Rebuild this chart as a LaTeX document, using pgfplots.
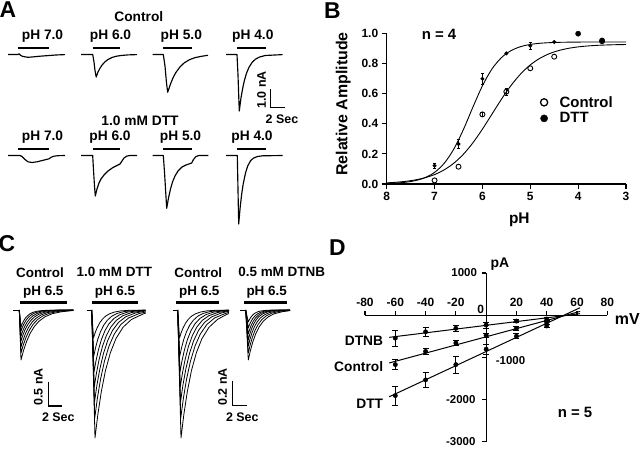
\documentclass[border=0pt]{standalone}
\usepackage{fontspec}
\setmainfont{Liberation Sans}
\usepackage{pgfplots}
\pgfplotsset{compat=1.18}
\newcommand{\fs}[1]{\fontsize{#1}{#1}\selectfont\bfseries}
\pgfplotsset{
  tr/.style={black, line width=1.15bp, line join=round},
  cr/.style={black, line width=0.8bp, line join=round},
  bar/.style={black, line width=2.8bp, line cap=butt},
  sb/.style={black, line width=1.4bp, line join=miter},
}
\begin{document}
\begin{tikzpicture}
% ================= background axis in pixel coordinates (panels A, C and texts)
\begin{axis}[name=bg, at={(0,0)}, anchor=south west, width=640bp, height=451bp,
  scale only axis, xmin=0, xmax=640, ymin=0, ymax=451, y dir=reverse,
  hide axis, clip=false, enlargelimits=false]
% ---------- Panel A, control row
\addplot[tr] coordinates {(8,54.5) (18,54.5) (19,53.8) (20.5,55.3) (23,56.5) (28,57.3) (33,56.9) (40,56.2) (48,55.6) (56,55.0) (65,54.6)};
\addplot[tr] coordinates {(81,54.5) (92.7,54.5) (94,62) (95,70.5) (96.2,77) (98,72) (100,68.2) (102,65.1) (105,61.8) (108,59.5) (112,57.5) (116,56.3) (121,55.5) (128,54.9) (137,54.6)};
\addplot[tr] coordinates {(152.7,54.5) (163.3,54.5) (165,66) (166.5,83) (167.7,92.3) (170.5,84.0) (173.2,77.4) (176,72.3) (180.1,66.8) (184.2,62.9) (189.7,59.6) (195.2,57.6) (202.1,56.2) (208,55.3)};
\addplot[tr] coordinates {(226,54.5) (237,54.5) (238,75) (238.8,98) (239.3,111) (240.9,98.5) (242.6,88.8) (244.2,81.2) (246.6,72.9) (249.1,67.1) (252.3,62.1) (255.6,59.1) (259.6,57.0) (265.3,55.5) (282.7,54.6)};
% ---------- Panel A, DTT row
\addplot[tr] coordinates {(8,155.5) (20,155.5) (22,156.5) (25,159.5) (28,161.8) (32,162.5) (37,161.8) (43,160.3) (49,158.8) (51,157.3) (54,156.2) (58,155.7) (65,155.5)};
\addplot[tr] coordinates {(81,155.5) (92.7,155.5) (93.5,170) (94.5,186) (95.3,196) (97,189) (99,183) (101,179) (104,175) (108,171) (113,167.5) (118,165) (120,164) (122,161) (124,158) (127,156) (130,155.5) (137,155.5)};
\addplot[tr] coordinates {(152.7,155.5) (163.3,155.5) (164.5,172) (165.7,192) (166.7,208.3) (168.5,198) (170.5,189) (172.5,182) (175,176) (178,171) (182,167) (186,165) (191.7,163) (193.5,159.5) (196,156.5) (199,155.5) (208.3,155.5)};
\addplot[tr] coordinates {(226,155.5) (237.3,155.5) (237.8,180) (238.3,205) (238.7,224) (240.2,207) (241.7,194) (243.2,184) (245.5,173) (247.7,166) (250.7,160.5) (253.7,158) (257.5,156.5) (262.7,155.8) (282.7,155.5)};
% application bars
\addplot[bar] coordinates {(18.3,48) (49.3,48)};
\addplot[bar] coordinates {(92.7,48) (120,48)};
\addplot[bar] coordinates {(163.3,48) (191.7,48)};
\addplot[bar] coordinates {(237.3,48) (265.7,48)};
\addplot[bar] coordinates {(18.3,149) (49.3,149)};
\addplot[bar] coordinates {(92.7,149) (120,149)};
\addplot[bar] coordinates {(163.3,149) (191.7,149)};
\addplot[bar] coordinates {(237.3,149) (265.7,149)};
% scale bar
\addplot[sb] coordinates {(270.7,89.3) (270.7,107.3) (285,107.3)};
% ---------- Panel C, group 1 (Control)
\addplot[cr] coordinates {(13.3,310) (19.3,310)};
\addplot[cr] coordinates {(19.3,310) (21,360) (23.4,351) (26.4,341.9) (30,333.6) (34.2,326.7) (39,321.2) (45,316.8) (52.2,313.7) (61.8,311.7) (73.3,310.5)};
\addplot[cr] coordinates {(19.3,310) (21,353) (23.2,345.2) (26,337.4) (29.3,330.3) (33.1,324.3) (37.5,319.6) (43,315.8) (49.6,313.2) (58.4,311.4) (70.5,310.5) (73.3,310.3)};
\addplot[cr] coordinates {(19.3,310) (21,347) (23,340.3) (25.5,333.6) (28.5,327.5) (32,322.3) (36,318.3) (41,315) (47,312.7) (55,311.2) (66,310.4) (73.3,310.2)};
\addplot[cr] coordinates {(19.3,310) (21,341) (22.8,335.4) (25,329.8) (27.8,324.6) (30.9,320.3) (34.5,316.9) (39,314.2) (44.4,312.3) (51.6,311) (61.5,310.3) (73.3,310.1)};
\addplot[cr] coordinates {(19.3,310) (21,336) (22.6,331.3) (24.6,326.6) (27,322.3) (29.8,318.7) (33,315.8) (37,313.5) (41.8,311.9) (48.2,310.9) (57,310.3) (73.3,310.1)};
\addplot[cr] coordinates {(19.3,310) (21,331) (22.4,327.2) (24.2,323.4) (26.3,319.9) (28.7,317) (31.5,314.7) (35,312.8) (39.2,311.6) (44.8,310.7) (52.5,310.2) (73.3,310)};
\addplot[cr] coordinates {(19.3,310) (21,327) (22.2,323.9) (23.7,320.8) (25.5,318) (27.6,315.7) (30,313.8) (33,312.3) (36.6,311.3) (41.4,310.6) (48,310.2) (73.3,310)};
% ---------- Panel C, group 2 (DTT)
\addplot[cr] coordinates {(86.7,310) (91.7,310)};
\addplot[cr] coordinates {(91.7,310) (95,438) (97.8,414.8) (101.3,391.7) (105.5,370.4) (110.4,352.6) (116,338.5) (123,327.3) (131.4,319.5) (142.6,314.2) (145.7,313)};
\addplot[cr] coordinates {(91.7,310) (94.75,418) (97.35,398.5) (100.6,378.9) (104.5,361) (109.05,346) (114.25,334.1) (120.75,324.6) (128.55,318) (138.95,313.6) (145.7,312)};
\addplot[cr] coordinates {(91.7,310) (94.5,402) (96.9,385.3) (99.9,368.7) (103.5,353.4) (107.7,340.6) (112.5,330.5) (118.5,322.4) (125.7,316.8) (135.3,313) (145.7,311)};
\addplot[cr] coordinates {(91.7,310) (94.25,387) (96.45,373.1) (99.2,359.1) (102.5,346.3) (106.35,335.6) (110.75,327.2) (116.25,320.4) (122.85,315.7) (131.65,312.5) (143.75,310.8) (145.7,310.6)};
\addplot[cr] coordinates {(91.7,310) (94,372) (96,360.8) (98.5,349.6) (101.5,339.3) (105,330.6) (109,323.8) (114,318.4) (120,314.6) (128,312) (139,310.7) (145.7,310.4)};
\addplot[cr] coordinates {(91.7,310) (93.75,356) (95.55,347.7) (97.8,339.3) (100.5,331.7) (103.65,325.3) (107.25,320.3) (111.75,316.2) (117.15,313.4) (124.35,311.5) (134.25,310.5) (145.7,310.2)};
\addplot[cr] coordinates {(91.7,310) (93.5,338) (95.1,332.9) (97.1,327.9) (99.5,323.2) (102.3,319.3) (105.5,316.2) (109.5,313.8) (114.3,312.1) (120.7,310.9) (129.5,310.3) (145.7,310.1)};
% ---------- Panel C, group 3 (Control)
\addplot[cr] coordinates {(172.7,310) (177.7,310)};
\addplot[cr] coordinates {(177.7,310) (181,438) (183.8,414.8) (187.3,391.7) (191.5,370.4) (196.4,352.6) (202,338.5) (209,327.3) (217.4,319.5) (226.5,314.5) (229,313.5)};
\addplot[cr] coordinates {(177.7,310) (180.75,418) (183.35,398.5) (186.6,378.9) (190.5,361) (195.05,346) (200.25,334.1) (206.75,324.6) (214.55,318) (224.95,313.6) (229,312.3)};
\addplot[cr] coordinates {(177.7,310) (180.5,402) (182.9,385.3) (185.9,368.7) (189.5,353.4) (193.7,340.6) (198.5,330.5) (204.5,322.4) (211.7,316.8) (221.3,313) (229,311.2)};
\addplot[cr] coordinates {(177.7,310) (180.25,387) (182.45,373.1) (185.2,359.1) (188.5,346.3) (192.35,335.6) (196.75,327.2) (202.25,320.4) (208.85,315.7) (217.65,312.5) (229,310.8)};
\addplot[cr] coordinates {(177.7,310) (180,372) (182,360.8) (184.5,349.6) (187.5,339.3) (191,330.6) (195,323.8) (200,318.4) (206,314.6) (214,312) (225,310.7) (229,310.5)};
\addplot[cr] coordinates {(177.7,310) (179.75,356) (181.55,347.7) (183.8,339.3) (186.5,331.7) (189.65,325.3) (193.25,320.3) (197.75,316.2) (203.15,313.4) (210.35,311.5) (220.25,310.5) (229,310.2)};
\addplot[cr] coordinates {(177.7,310) (179.5,338) (181.1,332.9) (183.1,327.9) (185.5,323.2) (188.3,319.3) (191.5,316.2) (195.5,313.8) (200.3,312.1) (206.7,310.9) (215.5,310.3) (229,310.1)};
% ---------- Panel C, group 4 (DTNB)
\addplot[cr] coordinates {(240,310) (245.7,310)};
\addplot[cr] coordinates {(245.7,310) (248.3,360) (250.3,351) (252.8,341.9) (255.8,333.6) (259.3,326.7) (263.3,321.2) (268.3,316.8) (274.3,313.7) (282.3,311.7) (290,310.6)};
\addplot[cr] coordinates {(245.7,310) (248.3,353) (250.1,345.2) (252.35,337.4) (255.05,330.3) (258.2,324.3) (261.8,319.6) (266.3,315.8) (271.7,313.2) (278.9,311.4) (288.8,310.5) (290,310.4)};
\addplot[cr] coordinates {(245.7,310) (248.3,346) (249.9,339.5) (251.9,333) (254.3,327) (257.1,322) (260.3,318) (264.3,314.9) (269.1,312.7) (275.5,311.2) (284.3,310.4) (290,310.2)};
\addplot[cr] coordinates {(245.7,310) (248.3,340) (249.7,334.6) (251.45,329.1) (253.55,324.2) (256,320) (258.8,316.7) (262.3,314.1) (266.5,312.2) (272.1,311) (279.8,310.3) (290,310.1)};
\addplot[cr] coordinates {(245.7,310) (248.3,334) (249.6,329.7) (251.2,325.3) (253.2,321.3) (255.45,318) (258.05,315.4) (261.3,313.2) (265.2,311.8) (270.4,310.8) (277.55,310.3) (290,310.1)};
\addplot[cr] coordinates {(245.7,310) (248.3,328) (249.5,324.7) (251,321.5) (252.8,318.5) (254.9,316) (257.3,314) (260.3,312.4) (263.9,311.3) (268.7,310.6) (275.3,310.2) (290,310)};
\addplot[cr] coordinates {(245.7,310) (248.3,322) (249.3,319.8) (250.55,317.7) (252.05,315.7) (253.8,314) (255.8,312.7) (258.3,311.6) (261.3,310.9) (265.3,310.4) (270.8,310.1) (290,310)};
% C bars and scale bars
\addplot[bar, line width=2.5bp] coordinates {(20,302.7) (66.7,302.7)};
\addplot[bar, line width=2.5bp] coordinates {(91.7,302.7) (138.3,302.7)};
\addplot[bar, line width=2.5bp] coordinates {(176,302.7) (219.3,302.7)};
\addplot[bar, line width=2.5bp] coordinates {(244.3,302.7) (287.3,302.7)};
\addplot[sb] coordinates {(48.3,381.7) (48.3,406) (62.3,406)};
\addplot[sb] coordinates {(232.3,380.7) (232.3,405.7) (246.7,405.7)};
% ---------- texts
\node[font=\fs{23}] at (axis cs:8,9.5) {A};
\node[font=\fs{23}] at (axis cs:332.5,10.5) {B};
\node[font=\fs{23}] at (axis cs:7,244) {C};
\node[font=\fs{23}] at (axis cs:337.5,247.5) {D};
\node[font=\fs{13.8}] at (axis cs:138.8,16.7) {Control};
\node[font=\fs{13.8}] at (axis cs:140,120.7) {1.0 mM DTT};
\node[font=\fs{13.8}] at (axis cs:42.5,36) {pH 7.0};
\node[font=\fs{13.8}] at (axis cs:110.5,36) {pH 6.0};
\node[font=\fs{13.8}] at (axis cs:181.3,36) {pH 5.0};
\node[font=\fs{13.8}] at (axis cs:252.8,36) {pH 4.0};
\node[font=\fs{13.8}] at (axis cs:42.5,137.3) {pH 7.0};
\node[font=\fs{13.8}] at (axis cs:110,137.3) {pH 6.0};
\node[font=\fs{13.8}] at (axis cs:180.5,137.3) {pH 5.0};
\node[font=\fs{13.8}] at (axis cs:252,137.3) {pH 4.0};
\node[font=\fs{12.5}, rotate=90] at (axis cs:261.7,90) {1.0 nA};
\node[font=\fs{12.5}] at (axis cs:282,119.5) {2 Sec};
\node[font=\fs{13.5}] at (axis cs:40,272.3) {Control};
\node[font=\fs{13.5}] at (axis cs:114.3,272.3) {1.0 mM DTT};
\node[font=\fs{13.5}] at (axis cs:198.3,272.3) {Control};
\node[font=\fs{13.5}] at (axis cs:281.7,272.3) {0.5 mM DTNB};
\node[font=\fs{13.5}] at (axis cs:43.3,292.3) {pH 6.5};
\node[font=\fs{13.5}] at (axis cs:115,292.3) {pH 6.5};
\node[font=\fs{13.5}] at (axis cs:199.3,292.3) {pH 6.5};
\node[font=\fs{13.5}] at (axis cs:266.7,292.3) {pH 6.5};
\node[font=\fs{12.5}, rotate=90] at (axis cs:38.3,386.7) {0.5 nA};
\node[font=\fs{12.5}] at (axis cs:58.3,417.7) {2 Sec};
\node[font=\fs{12.5}, rotate=90] at (axis cs:222.7,386.7) {0.2 nA};
\node[font=\fs{12.5}] at (axis cs:242.3,417.7) {2 Sec};
% B texts
\node[font=\fs{16}, rotate=90] at (axis cs:343.3,104) {Relative Amplitude};
\node[font=\fs{15.5}] at (axis cs:519.3,220) {pH};
\node[font=\fs{15}] at (axis cs:439,34.3) {n = 4};
% D texts
\node[font=\fs{13.8}, anchor=east, inner sep=0pt] at (axis cs:383.3,341) {DTNB};
\node[font=\fs{13.8}, anchor=east, inner sep=0pt] at (axis cs:383.3,366.7) {Control};
\node[font=\fs{13.8}, anchor=east, inner sep=0pt] at (axis cs:383.3,403.3) {DTT};
\node[font=\fs{15}] at (axis cs:575,412.7) {n = 5};
\node[font=\fs{16}] at (axis cs:627.3,319.3) {mV};
\node[font=\fs{14}] at (axis cs:500,264.3) {pA};
\end{axis}
% ================= Panel B
\begin{axis}[at={(386.7bp,267bp)}, anchor=south west, width=239.3bp, height=150.3bp,
  scale only axis, xmin=3, xmax=8, ymin=0, ymax=1, x dir=reverse, enlargelimits=false,
  axis x line=bottom, axis y line=left, axis line style={-, line width=1.1bp},
  tick align=outside, major tick length=5bp, tick style={black, line width=1.1bp},
  xtick={3,4,5,6,7,8}, ytick={0,0.2,0.4,0.6,0.8,1},
  yticklabel style={/pgf/number format/.cd, fixed, fixed zerofill, precision=1},
  /pgf/number format/assume math mode=true,
  ticklabel style={font=\fs{12}}, clip=false,
  legend style={at={(axis cs:4.93,0.612)}, anchor=north west, draw=none, fill=none,
    font=\fs{15}, row sep=0pt},
  legend cell align=left,
  legend image code/.code={\draw[mark repeat=1,#1] plot coordinates {(0.25cm,0cm)}; \path (0cm,0cm) (0.72cm,0cm);}]
\addplot[black, line width=0.9bp, smooth, forget plot] coordinates {(8,0.0033) (7.8,0.0063) (7.6,0.012) (7.4,0.0227) (7.2,0.0422) (7.0,0.0773) (6.8,0.1372) (6.6,0.2311) (6.4,0.3604) (6.2,0.5105) (6.0,0.6532) (5.8,0.7656) (5.6,0.8415) (5.4,0.8877) (5.2,0.914) (5.0,0.9285) (4.8,0.9363) (4.6,0.9404) (4.4,0.9426) (4.0,0.9443) (3.5,0.9449) (3.0,0.945)};
\addplot[black, line width=0.9bp, smooth, forget plot] coordinates {(8,0.0075) (7.8,0.0116) (7.6,0.0178) (7.4,0.0273) (7.2,0.0416) (7.0,0.0628) (6.8,0.0938) (6.6,0.1377) (6.4,0.1972) (6.2,0.2736) (6.0,0.3648) (5.8,0.465) (5.6,0.5651) (5.4,0.6564) (5.2,0.7328) (5.0,0.7923) (4.8,0.8362) (4.6,0.8672) (4.4,0.8884) (4.2,0.9027) (4.0,0.9122) (3.8,0.9184) (3.6,0.9225) (3.4,0.9251) (3.2,0.9269) (3.0,0.928)};
% error bars
\addplot[draw=none, mark=none, forget plot, error bars/.cd, y dir=both, y explicit,
  error bar style={draw=black, solid, line width=0.8bp}, error mark options={draw=black, solid, rotate=90, mark size=1.6bp, line width=0.8bp}]
  coordinates {(6,0.463) +- (0,0.016) (5.5,0.614) +- (0,0.022) (7,0.122) +- (0,0.016) (6.5,0.266) +- (0,0.032) (6.0,0.70) +- (0,0.035) (5.0,0.92) +- (0,0.025)};
\addplot[only marks, mark=o, mark size=2.5bp, mark options={fill=white, line width=0.9bp}, forget plot]
  coordinates {(7,0.024) (6.5,0.115) (6,0.463) (5.5,0.614) (5,0.77) (4.5,0.847) (3.5,0.95)};
\addplot[only marks, mark=*, mark size=1.8bp, forget plot]
  coordinates {(7,0.122) (6.5,0.266) (6.0,0.70) (5.5,0.869) (5.0,0.92) (4.5,0.945)};
\addplot[only marks, mark=*, mark size=2.6bp, forget plot]
  coordinates {(4.0,1.0) (3.5,0.955)};
\addlegendimage{only marks, mark=o, mark size=3.6bp, mark options={line width=1.3bp}}
\addlegendentry{Control}
\addlegendimage{only marks, mark=*, mark size=3.6bp}
\addlegendentry{DTT}
\end{axis}
% ================= Panel D
\begin{axis}[at={(365bp,9.3bp)}, anchor=south west, width=242.3bp, height=168.7bp,
  scale only axis, xmin=-80, xmax=80, ymin=-3000, ymax=1000, enlargelimits=false,
  axis lines=middle, axis line style={-, line width=1.1bp},
  xtick={-80,-60,-40,-20,20,40,60,80}, ytick={1000,-1000,-2000,-3000},
  xticklabel=\empty, yticklabel=\empty,
  major tick length=4.5bp, xtick align=inside, ytick align=outside,
  tick style={black, line width=1.1bp}, clip=false]
\addplot[black, line width=1bp] coordinates {(-64,-526) (62,35)};
\addplot[black, line width=1bp] coordinates {(-64,-1133) (62,89)};
\addplot[black, line width=1bp] coordinates {(-64,-1934) (62,177)};
\addplot[black, only marks, mark=*, mark size=2.2bp, error bars/.cd, y dir=both, y explicit,
  error bar style={line width=0.8bp}, error mark options={rotate=90, mark size=3bp, line width=0.8bp}]
  coordinates {(-60,-544) +- (0,190) (-40,-395) +- (0,100) (-20,-312) +- (0,80) (0,-233) +- (0,70) (20,-140) +- (0,30) (40,-90) +- (0,30)};
\addplot[black, only marks, mark=*, mark size=2.2bp, error bars/.cd, y dir=both, y explicit,
  error bar style={line width=0.8bp}, error mark options={rotate=90, mark size=3bp, line width=0.8bp}]
  coordinates {(-60,-1172) +- (0,120) (-40,-860) +- (0,80) (-20,-660) +- (0,60) (0,-474) +- (0,50) (20,-312) +- (0,40) (40,-180) +- (0,30)};
\addplot[black, only marks, mark=*, mark size=2.2bp, error bars/.cd, y dir=both, y explicit,
  error bar style={line width=0.8bp}, error mark options={rotate=90, mark size=3bp, line width=0.8bp}]
  coordinates {(-60,-1907) +- (0,230) (-40,-1535) +- (0,180) (-20,-1172) +- (0,200) (0,-807) +- (0,120) (20,-498) +- (0,60) (40,-256) +- (0,40)};
% tick labels
\node[font=\fs{12}, anchor=south, inner sep=0pt, yshift=8bp] at (axis cs:-80,0) {-80};
\node[font=\fs{12}, anchor=south, inner sep=0pt, yshift=8bp] at (axis cs:-60,0) {-60};
\node[font=\fs{12}, anchor=south, inner sep=0pt, yshift=8bp] at (axis cs:-40,0) {-40};
\node[font=\fs{12}, anchor=south, inner sep=0pt, yshift=8bp] at (axis cs:-20,0) {-20};
\node[font=\fs{12}, anchor=south, inner sep=0pt, yshift=8bp] at (axis cs:20,0) {20};
\node[font=\fs{12}, anchor=south, inner sep=0pt, yshift=8bp] at (axis cs:40,0) {40};
\node[font=\fs{12}, anchor=south, inner sep=0pt, yshift=8bp] at (axis cs:60,0) {60};
\node[font=\fs{12}, anchor=south, inner sep=0pt, yshift=8bp] at (axis cs:80,0) {80};
\node[font=\fs{12}, anchor=south east, inner sep=0pt, xshift=-2bp, yshift=1.5bp] at (axis cs:0,0) {0};
\node[font=\fs{11.5}, anchor=east, inner sep=0pt, xshift=-9bp] at (axis cs:0,1000) {1000};
\node[font=\fs{11.5}, anchor=west, inner sep=0pt, xshift=9.5bp, yshift=-3bp] at (axis cs:0,-1000) {-1000};
\node[font=\fs{11.5}, anchor=east, inner sep=0pt, xshift=-10.5bp] at (axis cs:0,-2000) {-2000};
\node[font=\fs{11.5}, anchor=east, inner sep=0pt, xshift=-10.5bp] at (axis cs:0,-3000) {-3000};
\end{axis}
\pgfresetboundingbox
\path[use as bounding box] (0,0) rectangle (640bp,451bp);
\end{tikzpicture}
\end{document}
